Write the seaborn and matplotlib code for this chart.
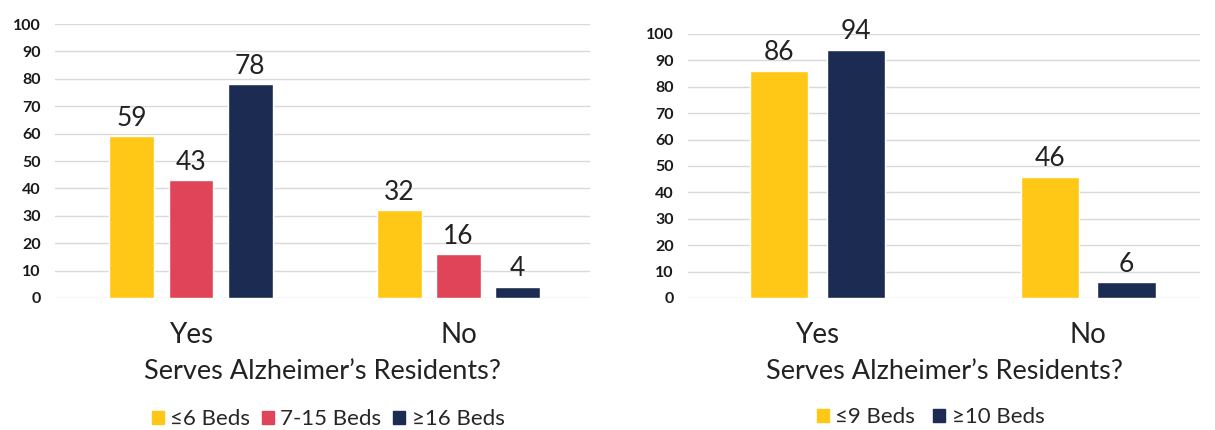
import matplotlib
matplotlib.use("Agg")
import matplotlib.pyplot as plt
import seaborn as sns
import pandas as pd
from matplotlib.patches import Patch

# Data
answers = ["Yes", "No"]
left_groups = ["≤6 Beds", "7-15 Beds", "≥16 Beds"]
left_small = [59, 32]
left_mid = [43, 16]
left_large = [78, 4]
right_groups = ["≤9 Beds", "≥10 Beds"]
right_small = [86, 46]
right_large = [94, 6]
yticks = list(range(0, 101, 10))
xlabel = "Serves Alzheimer’s Residents?"

YELLOW = "#FFC817"
RED = "#DF4459"
NAVY = "#1B2B52"

sns.set_theme(style="white")
plt.rcParams["font.family"] = ["Lato", "DejaVu Sans"]

fig = plt.figure(figsize=(12.15, 4.3), dpi=100)
axL = fig.add_axes([0.045, 0.307, 0.441, 0.637])
axR = fig.add_axes([0.566, 0.307, 0.422, 0.614])

dfL = pd.DataFrame({
    "answer": answers * 3,
    "beds": [left_groups[0]] * 2 + [left_groups[1]] * 2 + [left_groups[2]] * 2,
    "value": left_small + left_mid + left_large,
})
dfR = pd.DataFrame({
    "answer": answers * 2,
    "beds": [right_groups[0]] * 2 + [right_groups[1]] * 2,
    "value": right_small + right_large,
})

sns.barplot(data=dfL, x="answer", y="value", hue="beds", order=answers,
            hue_order=left_groups, palette=[YELLOW, RED, NAVY],
            width=0.663, gap=0.24, legend=False, ax=axL, saturation=1)
sns.barplot(data=dfR, x="answer", y="value", hue="beds", order=answers,
            hue_order=right_groups, palette=[YELLOW, NAVY],
            width=0.567, gap=0.24, legend=False, ax=axR, saturation=1)

for ax, xl in ((axL, (-0.51, 1.494)), (axR, (-0.48, 1.415))):
    ax.set_ylim(0, 100)
    ax.set_xlim(*xl)
    ax.set_yticks(yticks)
    ax.yaxis.grid(True, color="#d9d9d9", linewidth=1)
    ax.set_axisbelow(True)
    for s in ax.spines.values():
        s.set_visible(False)
    ax.tick_params(axis="y", length=0, pad=10, labelsize=11.5)
    for t in ax.get_yticklabels():
        t.set_fontweight("bold")
        t.set_color("#1a1a1a")
    ax.tick_params(axis="x", length=0, pad=17, labelsize=20, labelcolor="#222222")
    ax.set_xlabel(xlabel, fontsize=19.5, color="#222222", labelpad=8)
    ax.set_ylabel("")
    for c in ax.containers:
        ax.bar_label(c, fontsize=19, color="#222222", padding=4)

fig.legend(handles=[Patch(color=c, label=l) for c, l in zip([YELLOW, RED, NAVY], left_groups)],
           loc="center", bbox_to_anchor=(0.27, 0.025), ncol=3, frameon=False,
           fontsize=16, handlelength=0.55, handleheight=0.55, handletextpad=0.3,
           columnspacing=0.5)
fig.legend(handles=[Patch(color=c, label=l) for c, l in zip([YELLOW, NAVY], right_groups)],
           loc="center", bbox_to_anchor=(0.766, 0.03), ncol=2, frameon=False,
           fontsize=16, handlelength=0.55, handleheight=0.55, handletextpad=0.3,
           columnspacing=0.8)

fig.savefig("out.png", dpi=100, facecolor="white")
